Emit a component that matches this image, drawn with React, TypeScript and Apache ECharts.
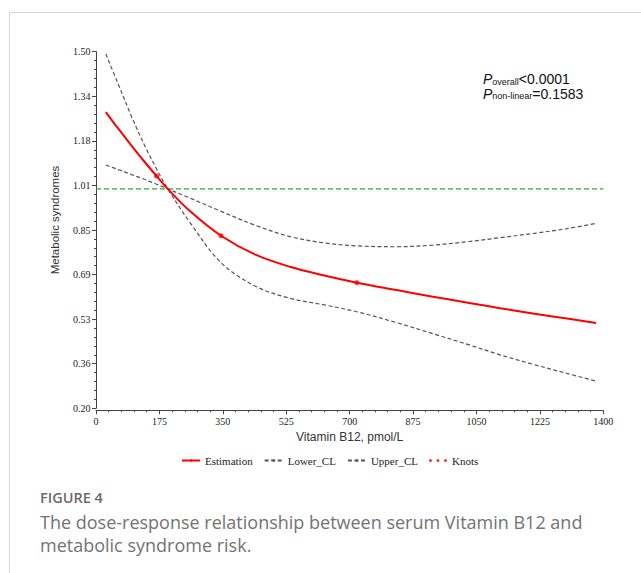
import React, { useEffect, useRef } from "react";
import * as echarts from "echarts";

// ---- data ----
const xValues = [27, 60, 100, 135, 167, 198, 260, 345, 440, 535, 630, 720, 830, 930, 1030, 1115, 1210, 1300, 1380];
const estimation = [1.28, 1.222, 1.154, 1.097, 1.047, 1.0, 0.918, 0.829, 0.76, 0.716, 0.684, 0.658, 0.631, 0.607, 0.584, 0.565, 0.545, 0.527, 0.511];
const lowerCL = [1.492, 1.386, 1.258, 1.156, 1.073, 1.0, 0.876, 0.731, 0.645, 0.601, 0.577, 0.552, 0.512, 0.472, 0.431, 0.395, 0.359, 0.327, 0.299];
const upperCL = [1.087, 1.071, 1.051, 1.034, 1.017, 1.0, 0.966, 0.918, 0.867, 0.826, 0.803, 0.792, 0.789, 0.795, 0.808, 0.822, 0.838, 0.855, 0.874];
const knotX = [167, 345, 720];
const knotY = [1.047, 0.829, 0.658];
const refValue = 1;

const yTickLabels = ["0.20", "0.36", "0.53", "0.69", "0.85", "1.01", "1.18", "1.34", "1.50"];
const yMin = 0.2;
const yMax = 1.5;
const yStep = 0.1625;
const xMin = 0;
const xMax = 1400;
const xStep = 175;

const pValueLines = [
  { sub: "overall", value: "<0.0001" },
  { sub: "non-linear", value: "=0.1583" },
];
const captionTitle = "FIGURE 4";
const captionText = "The dose-response relationship between serum Vitamin B12 and\nmetabolic syndrome risk.";

export default function App() {
  const ref = useRef<HTMLDivElement>(null);

  useEffect(() => {
    const chart = echarts.init(ref.current!, null, { renderer: "svg" });
    const serif = "'Liberation Serif', 'Times New Roman', serif";
    const sans = "'Liberation Sans', Arial, sans-serif";
    const pair = (ys: number[]) => xValues.map((x, i) => [x, ys[i]]);
    const knotsIcon =
      "path://M0,1.5a1.5,1.5 0 1,0 3,0a1.5,1.5 0 1,0 -3,0M7.5,1.5a1.5,1.5 0 1,0 3,0a1.5,1.5 0 1,0 -3,0M15,1.5a1.5,1.5 0 1,0 3,0a1.5,1.5 0 1,0 -3,0";

    const axisColor = "#444";
    const dashed = { color: "#555", width: 1.2, type: [4, 2.5] as number[] };

    chart.setOption({
      animation: false,
      backgroundColor: "#ffffff",
      grid: { left: 96, right: 37.7, top: 51.7, bottom: 164.7 },
      xAxis: {
        type: "value",
        min: xMin,
        max: xMax,
        interval: xStep,
        offset: 2,
        axisLine: { show: true, lineStyle: { color: axisColor, width: 1 } },
        axisTick: { show: true, length: 4, lineStyle: { color: axisColor } },
        minorTick: { show: true, splitNumber: 5, length: 2, lineStyle: { color: axisColor } },
        splitLine: { show: false },
        axisLabel: {
          fontFamily: serif,
          fontSize: 10,
          color: "#222",
          margin: 6,
          formatter: (v: number) => String(Math.round(v)),
        },
        name: "Vitamin B12, pmol/L",
        nameLocation: "middle",
        nameGap: 20,
        nameTextStyle: { fontFamily: sans, fontSize: 12, color: "#333" },
      },
      yAxis: {
        type: "value",
        min: yMin,
        max: yMax,
        interval: yStep,
        offset: 1.5,
        axisLine: { show: true, lineStyle: { color: axisColor, width: 1 } },
        axisTick: { show: true, length: 4, lineStyle: { color: axisColor } },
        minorTick: { show: true, splitNumber: 5, length: 2, lineStyle: { color: axisColor } },
        splitLine: { show: false },
        axisLabel: {
          fontFamily: serif,
          fontSize: 10,
          color: "#222",
          margin: 4,
          formatter: (v: number) => yTickLabels[Math.round((v - yMin) / yStep)] ?? "",
        },
      },
      legend: {
        left: 176,
        top: 450,
        itemWidth: 18,
        itemHeight: 3,
        itemGap: 11,
        textStyle: { fontFamily: serif, fontSize: 11, color: "#222" },
        data: ["Estimation", "Lower_CL", "Upper_CL", { name: "Knots", icon: knotsIcon }],
      },
      series: [
        {
          name: "Reference",
          type: "line",
          data: [
            [xMin, refValue],
            [xMax, refValue],
          ],
          symbol: "none",
          silent: true,
          lineStyle: { color: "#2faa2f", width: 1.2, type: [5, 3] },
          z: 2,
        },
        {
          name: "Estimation",
          type: "line",
          data: pair(estimation),
          smooth: 0.35,
          symbol: "none",
          lineStyle: { color: "#ff0000", width: 2 },
          itemStyle: { color: "#ff0000" },
          z: 4,
        },
        {
          name: "Lower_CL",
          type: "line",
          data: pair(lowerCL),
          smooth: 0.35,
          symbol: "none",
          lineStyle: dashed,
          itemStyle: { color: "#555" },
          z: 3,
        },
        {
          name: "Upper_CL",
          type: "line",
          data: pair(upperCL),
          smooth: 0.35,
          symbol: "none",
          lineStyle: dashed,
          itemStyle: { color: "#555" },
          z: 3,
        },
        {
          name: "Knots",
          type: "scatter",
          data: knotX.map((x, i) => [x, knotY[i]]),
          symbol: "circle",
          symbolSize: 5,
          itemStyle: { color: "#ff0000" },
          z: 5,
        },
      ],
      graphic: [
        { type: "line", shape: { x1: 9.5, y1: 12.5, x2: 641, y2: 12.5 }, style: { stroke: "#d4d4d4", lineWidth: 1 } },
        { type: "line", shape: { x1: 9.5, y1: 12.5, x2: 9.5, y2: 573 }, style: { stroke: "#d4d4d4", lineWidth: 1 } },
        {
          type: "text",
          x: 55,
          y: 220,
          rotation: Math.PI / 2,
          style: {
            text: "Metabolic syndromes",
            fontFamily: sans,
            fontSize: 11.5,
            fill: "#333",
            align: "center",
            verticalAlign: "middle",
          },
        },
        {
          type: "text",
          left: 483,
          top: 72,
          style: {
            text: pValueLines.map((l) => `{p|P}{s|${l.sub}}{v|${l.value}}`).join("\n"),
            rich: {
              p: { fontFamily: sans, fontStyle: "italic", fontSize: 14, lineHeight: 14.5, fill: "#111" },
              s: { fontFamily: sans, fontSize: 9, lineHeight: 8, verticalAlign: "bottom", fill: "#111" },
              v: { fontFamily: sans, fontSize: 14, lineHeight: 14.5, fill: "#111" },
            },
          },
        },
        {
          type: "text",
          left: 40,
          top: 490,
          style: {
            text: captionTitle,
            fontFamily: "'Open Sans', sans-serif",
            fontSize: 14.5,
            fontWeight: 600,
            fill: "#6a6a6a",
          },
        },
        {
          type: "text",
          left: 40,
          top: 510,
          style: {
            text: captionText,
            fontFamily: "'Open Sans', sans-serif",
            fontSize: 18,
            lineHeight: 23,
            fill: "#737373",
          },
        },
      ],
    });
    return () => chart.dispose();
  }, []);

  return <div ref={ref} style={{ position: "fixed", left: 0, top: 0, width: 641, height: 573, background: "#fff" }} />;
}
